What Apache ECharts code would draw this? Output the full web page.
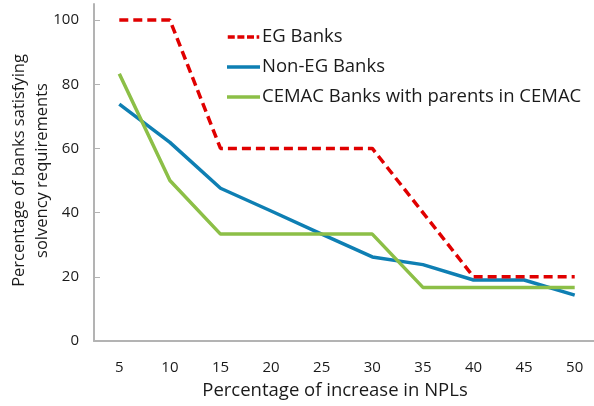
<!DOCTYPE html>
<html><head><meta charset="utf-8">
<script src="https://cdn.jsdelivr.net/npm/echarts@6/dist/echarts.min.js"></script>
<style>html,body{margin:0;padding:0;background:#fff}#c{width:594px;height:406px}</style>
</head><body><div id="c"></div>
<script>
var categories = ['5','10','15','20','25','30','35','40','45','50'];
var egBanks = [100,100,60,60,60,60,40,20,20,20];
var nonEgBanks = [73.8,61.9,47.6,40.5,33.3,26.2,23.8,19.0,19.0,14.3];
var cemacBanks = [83.3,50,33.3,33.3,33.3,33.3,16.7,16.7,16.7,16.7];
var yTicks = [0,20,40,60,80,100];
var seriesNames = ['EG Banks','Non-EG Banks','CEMAC Banks with parents in CEMAC'];

var font = '"Open Sans", "Noto Sans", sans-serif';
var dashIcon = 'path://M0,0h8v4h-8z M11,0h8v4h-8z M22,0h8v4h-8z M33,0h3v4h-3z';
var chart = echarts.init(document.getElementById('c'), null, {renderer:'canvas'});
chart.setOption({
  animation:false,
  grid:{left:94,right:-6,top:4,bottom:65,containLabel:false,outerBoundsMode:'none'},
  legend:{
    orient:'vertical', left:227, top:26, padding:0, itemWidth:33, itemHeight:3.5, itemGap:8,
    textStyle:{fontFamily:font,fontSize:18.5,color:'#1a1a1a',lineHeight:22,padding:[0,0,0,-3]},
    data:[{name:seriesNames[0],icon:dashIcon},{name:seriesNames[1],icon:'rect'},{name:seriesNames[2],icon:'rect'}]
  },
  xAxis:{
    type:'category', data:categories, boundaryGap:true,
    axisLine:{lineStyle:{color:'#b3b3b3',width:2}},
    axisTick:{inside:true,length:6,lineStyle:{color:'#b3b3b3'}},
    axisLabel:{margin:19,fontFamily:font,fontSize:15,color:'#1a1a1a'},
    name:'Percentage of increase in NPLs', nameLocation:'middle', nameGap:40, nameMoveOverlap:false,
    nameTextStyle:{fontFamily:font,fontSize:18.5,color:'#1a1a1a',padding:[0,24,0,0]}
  },
  yAxis:{
    type:'value', min:0, max:105, interval:20,
    axisLine:{show:true,lineStyle:{color:'#b3b3b3',width:2}},
    axisTick:{show:true,inside:true,length:6,customValues:yTicks,lineStyle:{color:'#b3b3b3'}},
    axisLabel:{margin:15,fontFamily:font,fontSize:15,color:'#1a1a1a',customValues:yTicks},
    splitLine:{show:false},
    name:'Percentage of banks satisfying\nsolvency requirements', nameLocation:'middle', nameGap:40, nameMoveOverlap:false,
    nameTextStyle:{fontFamily:font,fontSize:16.5,color:'#1a1a1a',lineHeight:23,padding:[0,0,0,4]}
  },
  series:[
    {name:seriesNames[0],type:'line',data:egBanks,symbol:'none',z:3,
     lineStyle:{color:'#e00000',width:3.5,type:[9,5]},itemStyle:{color:'#e00000'}},
    {name:seriesNames[1],type:'line',data:nonEgBanks,symbol:'none',z:2,
     lineStyle:{color:'#0e7fb3',width:3.5},itemStyle:{color:'#0e7fb3'}},
    {name:seriesNames[2],type:'line',data:cemacBanks,symbol:'none',z:2,
     lineStyle:{color:'#8cbf47',width:3.5},itemStyle:{color:'#8cbf47'}}
  ]
});
</script></body></html>
